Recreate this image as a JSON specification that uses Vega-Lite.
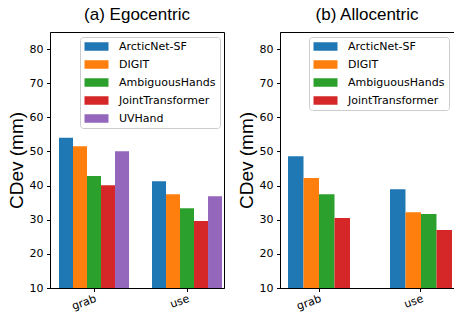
{
  "$schema": "https://vega.github.io/schema/vega-lite/v6.json",
  "padding": {"left": 6, "top": 5, "right": 0, "bottom": 0},
  "background": "white",
  "config": {
    "view": {"stroke": "black", "strokeWidth": 1},
    "axis": {"domainColor": "black", "tickColor": "black", "labelColor": "black", "labelFont": "DejaVu Sans", "labelFontSize": 11, "grid": false, "tickSize": 3.5, "labelPadding": 3.5, "titlePadding": 3, "titleFont": "Liberation Sans", "titleFontSize": 19, "titleFontWeight": "normal", "titleColor": "black"},
    "title": {"font": "Liberation Sans", "fontSize": 17, "fontWeight": "normal", "color": "black", "offset": 8},
    "legend": {"labelFont": "DejaVu Sans", "labelFontSize": 11, "labelColor": "black", "labelLimit": 300, "fillColor": "white", "strokeColor": "#cccccc", "cornerRadius": 3, "padding": 4, "symbolType": "M-2.4,-0.85H2.4V0.85H-2.4Z", "symbolSize": 100, "symbolOffset": 7, "labelOffset": 17, "rowPadding": 6, "symbolStrokeWidth": 0, "symbolOpacity": 1}
  },
  "data": {"values": [
    {"view": "Egocentric", "action": "grab", "method": "ArcticNet-SF", "cdev": 54.0},
    {"view": "Egocentric", "action": "grab", "method": "DIGIT", "cdev": 51.5},
    {"view": "Egocentric", "action": "grab", "method": "AmbiguousHands", "cdev": 42.8},
    {"view": "Egocentric", "action": "grab", "method": "JointTransformer", "cdev": 40.1},
    {"view": "Egocentric", "action": "grab", "method": "UVHand", "cdev": 50.1},
    {"view": "Egocentric", "action": "use", "method": "ArcticNet-SF", "cdev": 41.3},
    {"view": "Egocentric", "action": "use", "method": "DIGIT", "cdev": 37.5},
    {"view": "Egocentric", "action": "use", "method": "AmbiguousHands", "cdev": 33.4},
    {"view": "Egocentric", "action": "use", "method": "JointTransformer", "cdev": 29.6},
    {"view": "Egocentric", "action": "use", "method": "UVHand", "cdev": 36.9},
    {"view": "Allocentric", "action": "grab", "method": "ArcticNet-SF", "cdev": 48.6},
    {"view": "Allocentric", "action": "grab", "method": "DIGIT", "cdev": 42.2},
    {"view": "Allocentric", "action": "grab", "method": "AmbiguousHands", "cdev": 37.5},
    {"view": "Allocentric", "action": "grab", "method": "JointTransformer", "cdev": 30.5},
    {"view": "Allocentric", "action": "use", "method": "ArcticNet-SF", "cdev": 38.9},
    {"view": "Allocentric", "action": "use", "method": "DIGIT", "cdev": 32.2},
    {"view": "Allocentric", "action": "use", "method": "AmbiguousHands", "cdev": 31.7},
    {"view": "Allocentric", "action": "use", "method": "JointTransformer", "cdev": 27.0}
  ]},
  "spacing": 11,
  "resolve": {"scale": {"color": "independent", "x": "independent", "y": "independent", "xOffset": "independent"}},
  "hconcat": [
    {
      "width": 174, "height": 256,
      "title": {"text": "(a) Egocentric"},
      "transform": [{"filter": "datum.view === 'Egocentric'"}],
      "mark": {"type": "bar"},
      "encoding": {
        "x": {"field": "action", "type": "nominal", "scale": {"paddingInner": 0.247, "paddingOuter": 0.059, "align": 0.82}, "axis": {"title": null, "labelAngle": -20, "labelAlign": "right", "labelBaseline": "top", "labelPadding": 1, "labelDx": -4, "labelDy": -1}},
        "xOffset": {"field": "method", "type": "nominal", "scale": {"domain": ["ArcticNet-SF", "DIGIT", "AmbiguousHands", "JointTransformer", "UVHand"], "paddingInner": 0, "paddingOuter": 0}},
        "y": {"field": "cdev", "type": "quantitative", "scale": {"domain": [10, 85], "nice": false, "zero": false}, "axis": {"title": "CDev (mm)", "values": [10, 20, 30, 40, 50, 60, 70, 80]}},
        "y2": {"datum": 10},
        "color": {"field": "method", "type": "nominal", "scale": {"domain": ["ArcticNet-SF", "DIGIT", "AmbiguousHands", "JointTransformer", "UVHand"], "range": ["#1f77b4", "#ff7f0e", "#2ca02c", "#d62728", "#9467bd"]}, "legend": {"title": null, "orient": "none", "legendX": 30, "legendY": 5}}
      }
    },
    {
      "width": 174, "height": 256,
      "title": {"text": "(b) Allocentric"},
      "transform": [{"filter": "datum.view === 'Allocentric'"}],
      "mark": {"type": "bar"},
      "encoding": {
        "x": {"field": "action", "type": "nominal", "scale": {"paddingInner": 0.392, "paddingOuter": 0.049, "align": 0.8}, "axis": {"title": null, "labelAngle": -20, "labelAlign": "right", "labelBaseline": "top", "labelPadding": 1, "labelDx": -4, "labelDy": -1}},
        "xOffset": {"field": "method", "type": "nominal", "scale": {"domain": ["ArcticNet-SF", "DIGIT", "AmbiguousHands", "JointTransformer"], "paddingInner": 0, "paddingOuter": 0}},
        "y": {"field": "cdev", "type": "quantitative", "scale": {"domain": [10, 85], "nice": false, "zero": false}, "axis": {"title": "CDev (mm)", "values": [10, 20, 30, 40, 50, 60, 70, 80]}},
        "y2": {"datum": 10},
        "color": {"field": "method", "type": "nominal", "scale": {"domain": ["ArcticNet-SF", "DIGIT", "AmbiguousHands", "JointTransformer"], "range": ["#1f77b4", "#ff7f0e", "#2ca02c", "#d62728"]}, "legend": {"title": null, "orient": "none", "legendX": 29, "legendY": 5}}
      }
    }
  ]
}
